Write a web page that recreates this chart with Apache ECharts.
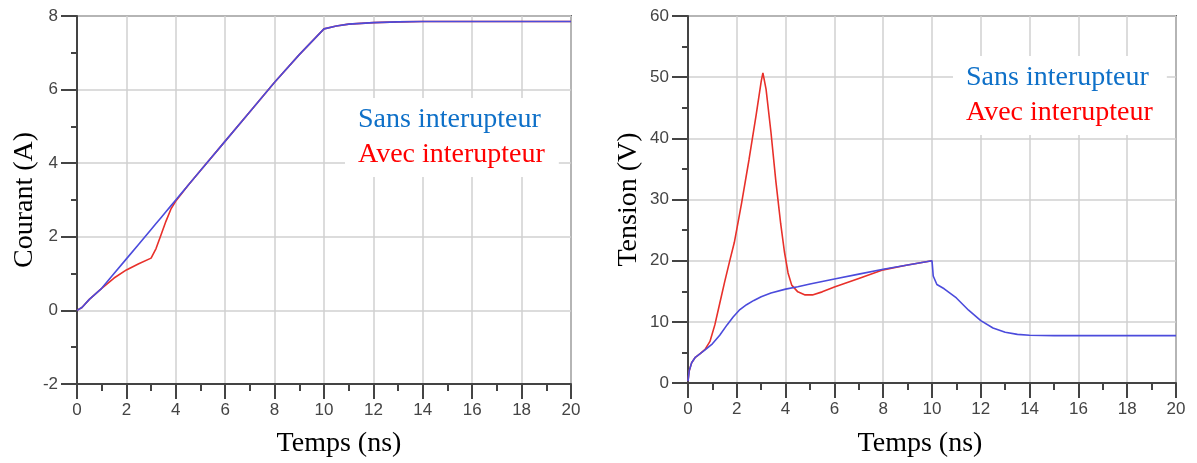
<!DOCTYPE html>
<html>
<head>
<meta charset="utf-8">
<script src="https://cdn.jsdelivr.net/npm/echarts@6.0.0/dist/echarts.min.js"></script>
<style>
    html, body { margin: 0; padding: 0; background: #fff; }
    #main { width: 1197px; height: 463px; }
</style>
</head>
<body>
<div id="main"></div>
<script>
// courant (A) en fonction du temps (ns)
var courantTemps = [0, 0.2, 0.5, 1, 1.5, 2, 2.5, 3, 3.2, 3.4, 3.6, 3.8, 4, 4.2, 4.5, 5, 6, 7, 8, 9, 10, 10.5, 11, 12, 13, 14, 16, 18, 20];
var courantSans = [0, 0.08, 0.3, 0.6, 1.0, 1.4, 1.8, 2.2, 2.36, 2.52, 2.68, 2.84, 3.0, 3.16, 3.4, 3.8, 4.6, 5.4, 6.2, 6.95, 7.65, 7.73, 7.78, 7.82, 7.84, 7.85, 7.85, 7.85, 7.85];
var courantAvec = [0, 0.08, 0.3, 0.6, 0.88, 1.1, 1.27, 1.42, 1.68, 2.05, 2.42, 2.75, 2.97, 3.14, 3.4, 3.8, 4.6, 5.4, 6.2, 6.95, 7.65, 7.73, 7.78, 7.82, 7.84, 7.85, 7.85, 7.85, 7.85];

// tension (V) en fonction du temps (ns)
var tensionTempsSans = [0, 0.05, 0.15, 0.3, 0.5, 0.7, 1, 1.3, 1.6, 1.85, 2.1, 2.4, 2.7, 3, 3.4, 4, 4.5, 5, 5.5, 6, 7, 8, 9, 10, 10.05, 10.2, 10.5, 11, 11.5, 12, 12.5, 13, 13.5, 14, 15, 16, 18, 20];
var tensionSans = [0.3, 2.0, 3.3, 4.2, 4.8, 5.4, 6.4, 7.8, 9.5, 10.8, 11.9, 12.8, 13.5, 14.1, 14.7, 15.35, 15.75, 16.2, 16.6, 17.0, 17.8, 18.6, 19.3, 20, 17.5, 16.1, 15.4, 13.9, 11.9, 10.2, 9.0, 8.3, 7.95, 7.8, 7.75, 7.75, 7.75, 7.75];
var tensionTempsAvec = [0, 0.05, 0.15, 0.3, 0.5, 0.7, 0.9, 1.1, 1.3, 1.5, 1.7, 1.9, 2.2, 2.5, 2.8, 3.0, 3.07, 3.2, 3.4, 3.6, 3.8, 3.95, 4.1, 4.25, 4.5, 4.8, 5.1, 5.5, 6, 7, 8, 9, 10];
var tensionAvec = [0.3, 2.0, 3.3, 4.2, 4.8, 5.5, 6.8, 9.5, 13, 16.5, 19.8, 23, 29.5, 36.5, 44, 49.3, 50.7, 48, 41, 33, 26, 21.5, 18, 16, 14.9, 14.4, 14.4, 14.9, 15.7, 17.1, 18.5, 19.3, 20];

var legendNames = ["Sans interupteur", "Avec interupteur"];

window.onload = function () {
    chart();
};

function pairs(xs, ys) {
    var out = [];
    for (var i = 0; i < xs.length; i++) {
        out.push([xs[i], ys[i]]);
    }
    return out;
}

function xAxisCfg(gridIndex, name, gap, pad) {
    return {
        type: "value",
        gridIndex: gridIndex,
        min: 0,
        max: 20,
        interval: 2,
        name: name,
        nameLocation: "middle",
        nameGap: gap,
        nameTextStyle: { fontFamily: "Liberation Serif", fontSize: 28, color: "#000", padding: pad },
        axisLine: { onZero: false, lineStyle: { color: "#444", width: 2 } },
        axisTick: { length: 15, lineStyle: { color: "#444", width: 2 } },
        minorTick: { show: true, splitNumber: 2, length: 7, lineStyle: { color: "#444", width: 2 } },
        axisLabel: { margin: 18, fontFamily: "Liberation Sans", fontSize: 17, color: "#444" },
        splitLine: { show: true, lineStyle: { color: "#d0d0d0", width: 1.5 } },
    };
}

function yAxisCfg(gridIndex, name, gap, min, max, interval) {
    return {
        type: "value",
        gridIndex: gridIndex,
        min: min,
        max: max,
        interval: interval,
        name: name,
        nameLocation: "middle",
        nameGap: gap,
        nameTextStyle: { fontFamily: "Liberation Serif", fontSize: 28, color: "#000" },
        axisLine: { show: true, lineStyle: { color: "#444", width: 2 } },
        axisTick: { show: true, length: 16, lineStyle: { color: "#444", width: 2 } },
        minorTick: { show: true, splitNumber: 2, length: 6, lineStyle: { color: "#444", width: 2 } },
        axisLabel: { margin: 19, fontFamily: "Liberation Sans", fontSize: 17, color: "#444" },
        splitLine: { show: true, lineStyle: { color: "#d0d0d0", width: 1.5 } },
    };
}

function legendCfg(left, top) {
    return {
        left: left,
        top: top,
        orient: "vertical",
        icon: "none",
        itemWidth: 0,
        itemGap: 7,
        selectedMode: false,
        backgroundColor: "#fff",
        padding: [8, 14, 8, 8],
        textStyle: { fontFamily: "Liberation Serif", fontSize: 28, lineHeight: 28 },
        data: [
            { name: legendNames[0], textStyle: { color: "#0e70c8" } },
            { name: legendNames[1], textStyle: { color: "#ff0000" } },
        ],
    };
}

function lineSerie(name, axisIndex, data, color) {
    return {
        name: name,
        type: "line",
        xAxisIndex: axisIndex,
        yAxisIndex: axisIndex,
        showSymbol: false,
        symbol: "none",
        smooth: false,
        lineStyle: { color: color, width: 1.6 },
        itemStyle: { color: color },
        data: data,
    };
}

function chart() {
    var myChart = echarts.init(document.getElementById("main"));

    var option = {
        animation: false,
        grid: [
            { left: 77, top: 16, width: 494, height: 372, show: true, borderColor: "#666", borderWidth: 2 },
            { left: 688, top: 16, width: 488, height: 368, show: true, borderColor: "#666", borderWidth: 2 },
        ],
        legend: [legendCfg(345, 98), legendCfg(953, 56)],
        xAxis: [
            xAxisCfg(0, "Temps (ns)", 46, [0, 0, 0, 30]),
            xAxisCfg(1, "Temps (ns)", 47, [0, 24, 0, 0]),
        ],
        yAxis: [
            yAxisCfg(0, "Courant (A)", 37, -2, 8, 2),
            yAxisCfg(1, "Tension (V)", 45, 0, 60, 10),
        ],
        series: [
            lineSerie(legendNames[1], 0, pairs(courantTemps, courantAvec), "#e8302a"),
            lineSerie(legendNames[0], 0, pairs(courantTemps, courantSans), "#4b4bdc"),
            lineSerie(legendNames[1], 1, pairs(tensionTempsAvec, tensionAvec), "#e8302a"),
            lineSerie(legendNames[0], 1, pairs(tensionTempsSans, tensionSans), "#4b4bdc"),
        ],
    };

    myChart.setOption(option);
    window.addEventListener("resize", function () {
        myChart.resize();
    });
}
</script>
</body>
</html>
